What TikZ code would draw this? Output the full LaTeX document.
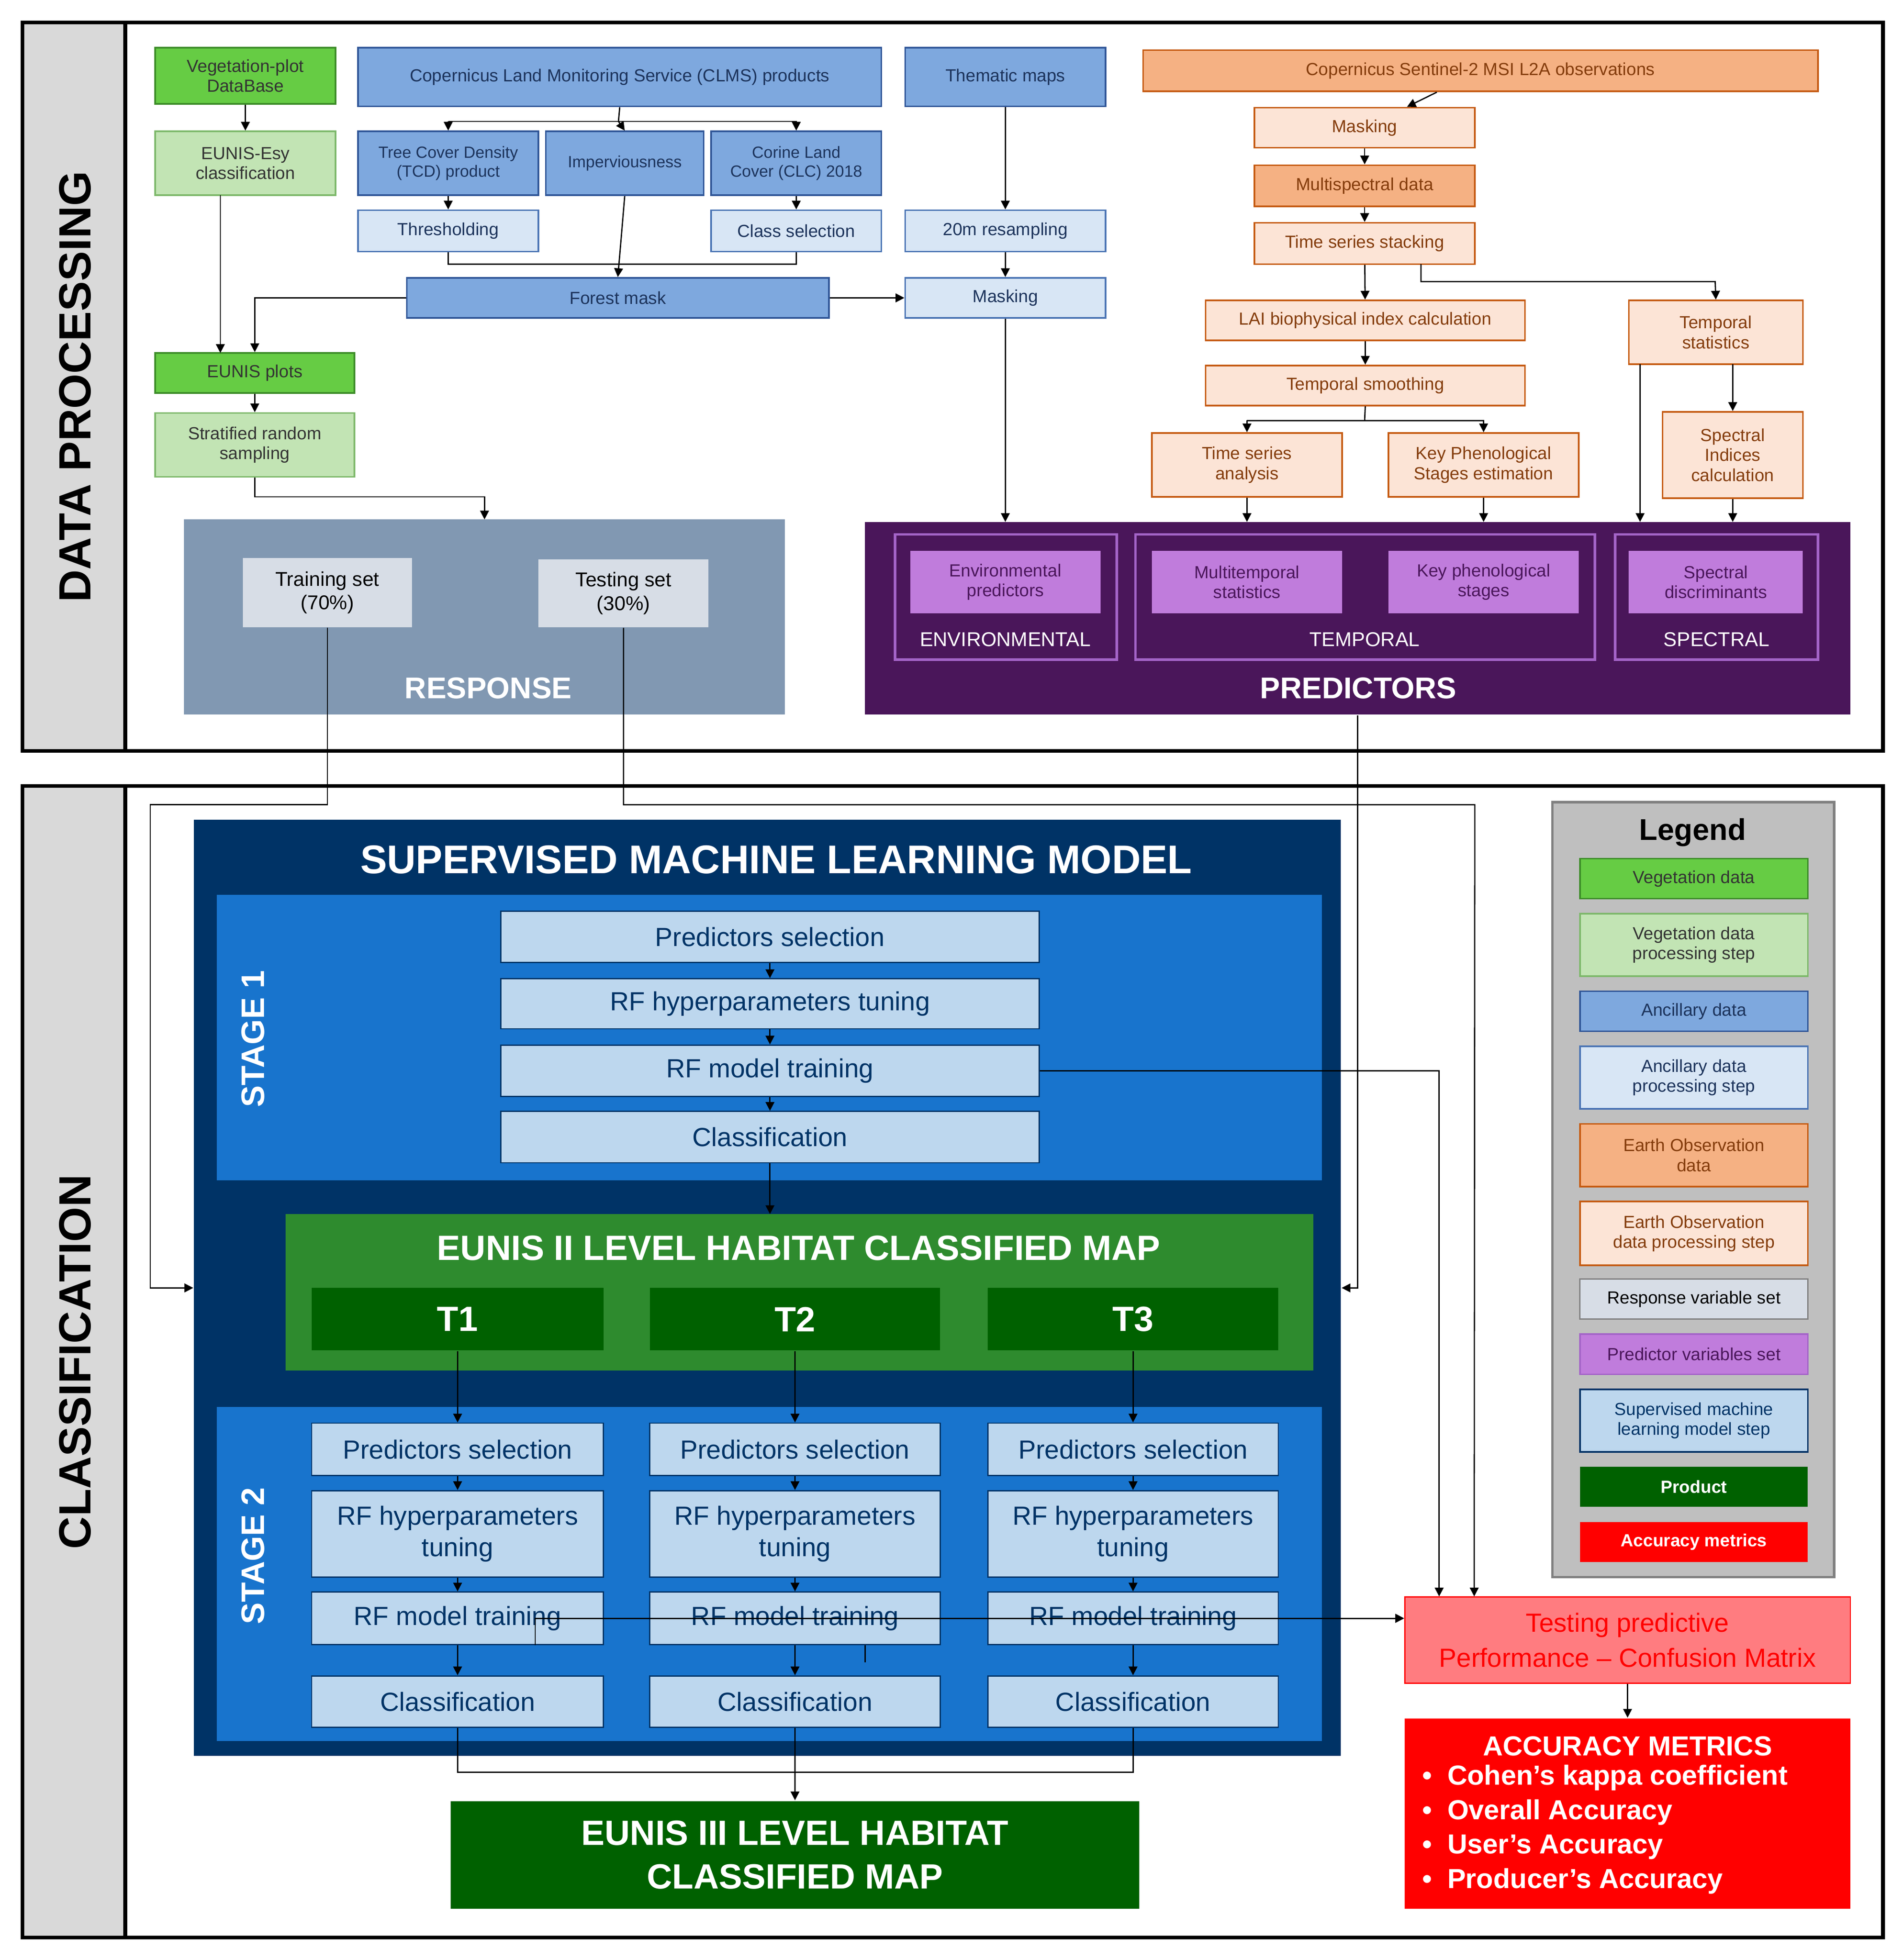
\documentclass[tikz,border=0pt]{standalone}
\usepackage{fontspec}
\setmainfont{Liberation Sans}
\usetikzlibrary{arrows.meta}
\definecolor{vegD}{HTML}{66CC44}\definecolor{vegDd}{HTML}{3C8C28}
\definecolor{vegS}{HTML}{C2E4B4}\definecolor{vegSd}{HTML}{7DB86A}
\definecolor{ancD}{HTML}{7EA8DE}\definecolor{ancDd}{HTML}{2F5597}
\definecolor{ancS}{HTML}{D8E6F5}\definecolor{ancSd}{HTML}{4A74B4}
\definecolor{eoD}{HTML}{F5B183}\definecolor{eoDd}{HTML}{C55A11}
\definecolor{eoS}{HTML}{FCE4D6}\definecolor{eoT}{HTML}{843C0C}
\definecolor{resp}{HTML}{8198B2}\definecolor{respS}{HTML}{D7DDE6}
\definecolor{predB}{HTML}{4A165A}\definecolor{predS}{HTML}{C07CDC}\definecolor{predF}{HTML}{A464C8}
\definecolor{navy}{HTML}{003366}\definecolor{stage}{HTML}{1874CD}\definecolor{sbox}{HTML}{BDD7EE}
\definecolor{prod}{HTML}{006100}\definecolor{lev2}{HTML}{2E8B2E}
\definecolor{tpF}{HTML}{FF7C80}\definecolor{grayS}{HTML}{D9D9D9}\definecolor{legG}{HTML}{BFBFBF}
\newcommand\bx[7]{\node[#1,minimum width={#4-#2},minimum height={#5-#3}] (#6) at ({(#2+#4)/2},{(#3+#5)/2}) {#7};}
\tikzset{
 base/.style={inner sep=0pt,align=center,line width=1.3pt,font=\fontsize{14}{16}\selectfont},
 vd/.style={base,fill=vegD,draw=vegDd,text=black!80},
 vs/.style={base,fill=vegS,draw=vegSd,text=black!80},
 ad/.style={base,fill=ancD,draw=ancDd,text=ancDd!60!black},
 as/.style={base,fill=ancS,draw=ancSd,text=ancDd!60!black},
 ed/.style={base,fill=eoD,draw=eoDd,text=eoT},
 es/.style={base,fill=eoS,draw=eoDd,text=eoT},
 rs/.style={base,fill=respS,draw=none,text=black,font=\fontsize{16}{19}\selectfont},
 ps/.style={base,fill=predS,draw=none,text=predB},
 sb/.style={base,fill=sbox,draw=navy,line width=1pt,text=navy,font=\fontsize{21}{25}\selectfont},
 arr/.style={-{Triangle[length=7pt,width=7pt]},line width=1pt},
 ln/.style={line width=1pt},
 title/.style={inner sep=0pt,align=center,text=white,font=\bfseries\fontsize{#1}{1.25\dimexpr#1pt\relax}\selectfont},
}
\begin{document}
\begin{tikzpicture}[x=1pt,y=-1pt]
\useasboundingbox (0,0) rectangle (1520,1566);
\fill[white] (0,0) rectangle (1520,1566);
% frames
\fill[grayS] (18,18) rectangle (100,600);
\fill[grayS] (18,628) rectangle (1504,1548) ;
\fill[white] (100,628) rectangle (1504,1548);
\draw[line width=3pt] (18,18) rectangle (1504,600) (100,18)--(100,600);
\draw[line width=3pt] (18,628) rectangle (1504,1548) (100,628)--(100,1548);
\node[rotate=90,font=\bfseries\fontsize{36}{40}\selectfont] (dp) at (60,309) {DATA PROCESSING};
\node[rotate=90,font=\bfseries\fontsize{36}{40}\selectfont] (cl) at (60,1088) {CLASSIFICATION};

% ---- vegetation
\bx{vd}{124}{38}{268}{83}{vdb}{Vegetation-plot\\DataBase}
\bx{vs}{124}{105}{268}{156}{esy}{EUNIS-Esy\\classification}
\bx{vd}{124}{282}{283}{314}{eplots}{EUNIS plots}
\bx{vs}{124}{330}{283}{381}{strat}{Stratified random\\sampling}
% ---- ancillary
\bx{ad}{286}{38}{704}{85}{clms}{Copernicus Land Monitoring Service (CLMS) products}
\bx{ad,font=\fontsize{13}{15}\selectfont}{286}{105}{430}{156}{tcd}{Tree Cover Density\\(TCD) product}
\bx{ad,font=\fontsize{13}{15}\selectfont}{436}{105}{562}{156}{imp}{Imperviousness}
\bx{ad,font=\fontsize{13}{15}\selectfont}{568}{105}{704}{156}{clc}{Corine Land\\Cover (CLC) 2018}
\bx{as}{286}{168}{430}{201}{thr}{Thresholding}
\bx{as}{568}{168}{704}{201}{cls}{Class selection}
\bx{ad}{325}{222}{662}{254}{fm}{Forest mask}
\bx{ad}{723}{38}{883}{85}{them}{Thematic maps}
\bx{as}{723}{168}{883}{201}{res}{20m resampling}
\bx{as}{723}{222}{883}{254}{mask2}{Masking}
% ---- EO
\bx{ed}{913}{40}{1452}{73}{s2}{Copernicus Sentinel-2 MSI L2A observations}
\bx{es}{1002}{86}{1178}{118}{emask}{Masking}
\bx{ed}{1002}{132}{1178}{165}{ms}{Multispectral data}
\bx{es}{1002}{178}{1178}{211}{tss}{Time series stacking}
\bx{es}{963}{240}{1218}{272}{lai}{LAI biophysical index calculation}
\bx{es}{1301}{240}{1440}{291}{tst}{Temporal\\statistics}
\bx{es}{963}{292}{1218}{324}{tsm}{Temporal smoothing}
\bx{es}{920}{346}{1072}{397}{tsa}{Time series\\analysis}
\bx{es}{1109}{346}{1261}{397}{kps}{Key Phenological\\Stages estimation}
\bx{es}{1328}{329}{1440}{398}{sic}{Spectral\\Indices\\calculation}
% ---- response
\bx{base,fill=resp,draw=none}{147}{415}{627}{571}{resp}{}
\bx{rs}{194}{446}{329}{501}{train}{Training set\\(70\%)}
\bx{rs}{430}{447}{566}{501}{test}{Testing set\\(30\%)}
\node[title=24] (rl) at (390,550) {RESPONSE};
% ---- predictors
\bx{base,fill=predB,draw=none}{691}{417}{1478}{571}{pred}{}
\draw[predF,line width=2pt] (715,427) rectangle (892,527) (907,427) rectangle (1274,527) (1290,427) rectangle (1452,527);
\bx{ps}{727}{440}{879}{490}{envp}{Environmental\\predictors}
\bx{ps}{920}{440}{1072}{490}{mts}{Multitemporal\\statistics}
\bx{ps}{1109}{440}{1261}{490}{kpst}{Key phenological\\stages}
\bx{ps}{1301}{440}{1440}{490}{spd}{Spectral\\discriminants}
\node[text=white,font=\fontsize{16}{19}\selectfont] (envl) at (803,511) {ENVIRONMENTAL};
\node[text=white,font=\fontsize{16}{19}\selectfont] (tmpl) at (1090,511) {TEMPORAL};
\node[text=white,font=\fontsize{16}{19}\selectfont] (spl) at (1371,511) {SPECTRAL};
\node[title=24] (pl) at (1085,550) {PREDICTORS};

% ---- top connectors
\draw[arr] (vdb) -- (esy);
\draw[ln] (clms.south) -- (494,97);
\draw[arr] (358,97) -- (tcd.north);
\draw[arr] (358,97) -- (636,97) -- (clc.north);
\draw[arr] (494,97) -- (imp.north);
\draw[arr] (tcd) -- (thr); \draw[arr] (clc) -- (cls);
\draw[ln] (thr.south) -- (358,211) -- (636,211) -- (cls.south);
\draw[arr] (imp.south) -- (fm.north);
\draw[arr] (fm.east) -- (mask2.west);
\draw[arr] (fm.west) -| (eplots.north);
\draw[arr] (176,156) -- (176,282);
\draw[arr] (eplots) -- (strat);
\draw[arr] (strat.south) |- (387,397) -- (387,415);
\draw[arr] (them) -- (res); \draw[arr] (res) -- (mask2);
\draw[arr] (mask2.south) -- (803,417);
\draw[arr] (s2) -- (emask); \draw[arr] (emask) -- (ms); \draw[arr] (ms) -- (tss);
\draw[arr] (tss) -- (lai);
\draw[arr] (1135,211) |- (1370,225) -- (tst.north);
\draw[arr] (lai) -- (tsm);
\draw[ln] (tsm.south) -- (1090,336);
\draw[arr] (996,336) -- (1185,336) -- (kps.north);
\draw[arr] (996,336) -- (tsa.north);
\draw[arr] (tsa.south) -- (996,417);
\draw[arr] (kps.south) -- (1185,417);
\draw[arr] (1310,291) -- (1310,417);
\draw[arr] (1384,291) -- (sic.north);
\draw[arr] (sic.south) -- (1384,417);

% ---- SML
\bx{base,fill=navy,draw=none}{155}{655}{1071}{1403}{sml}{}
\node[title=32] (smlt) at (620,687) {SUPERVISED MACHINE LEARNING MODEL};
\bx{base,fill=stage,draw=none}{173}{715}{1056}{943}{st1}{}
\node[title=26,rotate=90] (st1l) at (202,830) {STAGE 1};
\bx{sb}{400}{728}{830}{769}{sa}{Predictors selection}
\bx{sb}{400}{782}{830}{822}{sbb}{RF hyperparameters tuning}
\bx{sb}{400}{835}{830}{876}{sc}{RF model training}
\bx{sb}{400}{888}{830}{929}{sd}{Classification}
\draw[arr] (sa) -- (sbb); \draw[arr] (sbb) -- (sc); \draw[arr] (sc) -- (sd);
\bx{base,fill=lev2,draw=none}{228}{970}{1049}{1095}{l2}{}
\node[title=28] (l2t) at (638,997) {EUNIS II LEVEL HABITAT CLASSIFIED MAP};
\draw[arr] (sd.south) -- (615,970);
\bx{base,fill=stage,draw=none}{173}{1124}{1056}{1391}{st2}{}
\node[title=26,rotate=90] (st2l) at (202,1243) {STAGE 2};
\foreach \i/\xa/\xb in {1/249/482,2/519/751,3/789/1021}{
 \bx{base,fill=prod,draw=none,text=white,font=\bfseries\fontsize{28}{32}\selectfont}{\xa}{1029}{\xb}{1079}{t\i}{T\i}
 \bx{sb}{\xa}{1137}{\xb}{1179}{c\i a}{Predictors selection}
 \bx{sb}{\xa}{1191}{\xb}{1260}{c\i b}{RF hyperparameters\\tuning}
 \bx{sb}{\xa}{1272}{\xb}{1314}{c\i t}{RF model training}
 \bx{sb}{\xa}{1339}{\xb}{1380}{c\i d}{Classification}
 \draw[arr] (t\i) -- (c\i a); \draw[arr] (c\i a) -- (c\i b);
 \draw[arr] (c\i b) -- (c\i t); \draw[arr] (c\i t) -- (c\i d);
}
\bx{base,fill=prod,draw=none}{360}{1439}{910}{1525}{l3}{}
\node[title=28] (l3t) at (635,1482) {EUNIS III LEVEL HABITAT\\CLASSIFIED MAP};
\draw[ln] (c1d.south) |- (905,1416) -- (c3d.south);
\draw[arr] (c2d.south) -- (l3.north);

% ---- accuracy
\bx{base,fill=tpF,draw=red,line width=1pt,text=red,font=\fontsize{21}{28}\selectfont}{1122}{1276}{1478}{1345}{tp}{Testing predictive\\Performance -- Confusion Matrix}
\bx{base,fill=red,draw=none}{1122}{1373}{1478}{1525}{acc}{}
\node[title=22] (acct) at (1300,1395) {ACCURACY METRICS};
\node[inner sep=0pt,text=white,align=left,anchor=north west,font=\bfseries\fontsize{22}{27.5}\selectfont] (accl) at (1136,1410) {\textbullet\ \ Cohen’s kappa coefficient\\\textbullet\ \ Overall Accuracy\\\textbullet\ \ User’s Accuracy\\\textbullet\ \ Producer’s Accuracy};
\draw[arr] (tp) -- (acc);

% ---- classification connectors
\draw[arr] (train.south) |- (120,643) |- (sml.west);
\draw[arr] (test.south) |- (1178,643) -- ([xshift=56pt]tp.north west);
\draw[arr] (pred.south) |- (sml.east);
\draw[arr] (sc.east) -| ([xshift=28pt]tp.north west);
\draw[arr] (c3t.east) -- (c3t.east -| tp.west);
\draw[arr] ([xshift=62pt]c1t.south) |- ([yshift=17.5pt]tp.west);
\draw[ln] ([xshift=56pt]c2t.south) -- (691,1328);

% ---- legend
\bx{base,fill=legG,draw=gray,line width=2pt}{1240}{641}{1465}{1260}{leg}{}
\node[font=\bfseries\fontsize{24}{28}\selectfont] (legt) at (1352,665) {Legend};
\bx{vd}{1262}{686}{1444}{718}{g1}{Vegetation data}
\bx{vs}{1262}{730}{1444}{780}{g2}{Vegetation data\\processing step}
\bx{ad}{1262}{792}{1444}{824}{g3}{Ancillary data}
\bx{as}{1262}{836}{1444}{886}{g4}{Ancillary data\\processing step}
\bx{ed}{1262}{898}{1444}{948}{g5}{Earth Observation\\data}
\bx{es}{1262}{960}{1444}{1011}{g6}{Earth Observation\\data processing step}
\bx{rs,font=\fontsize{14}{16}\selectfont,draw=gray,line width=1pt}{1262}{1022}{1444}{1054}{g7}{Response variable set}
\bx{ps,draw=predF}{1262}{1066}{1444}{1098}{g8}{Predictor variables set}
\bx{base,fill=sbox,draw=navy,text=navy}{1262}{1110}{1444}{1160}{g9}{Supervised machine\\learning model step}
\bx{base,fill=prod,draw=none,text=white,font=\bfseries\fontsize{14}{16}\selectfont}{1262}{1172}{1444}{1204}{g10}{Product}
\bx{base,fill=red,draw=none,text=white,font=\bfseries\fontsize{14}{16}\selectfont}{1262}{1216}{1444}{1248}{g11}{Accuracy metrics}
\end{tikzpicture}
\end{document}
